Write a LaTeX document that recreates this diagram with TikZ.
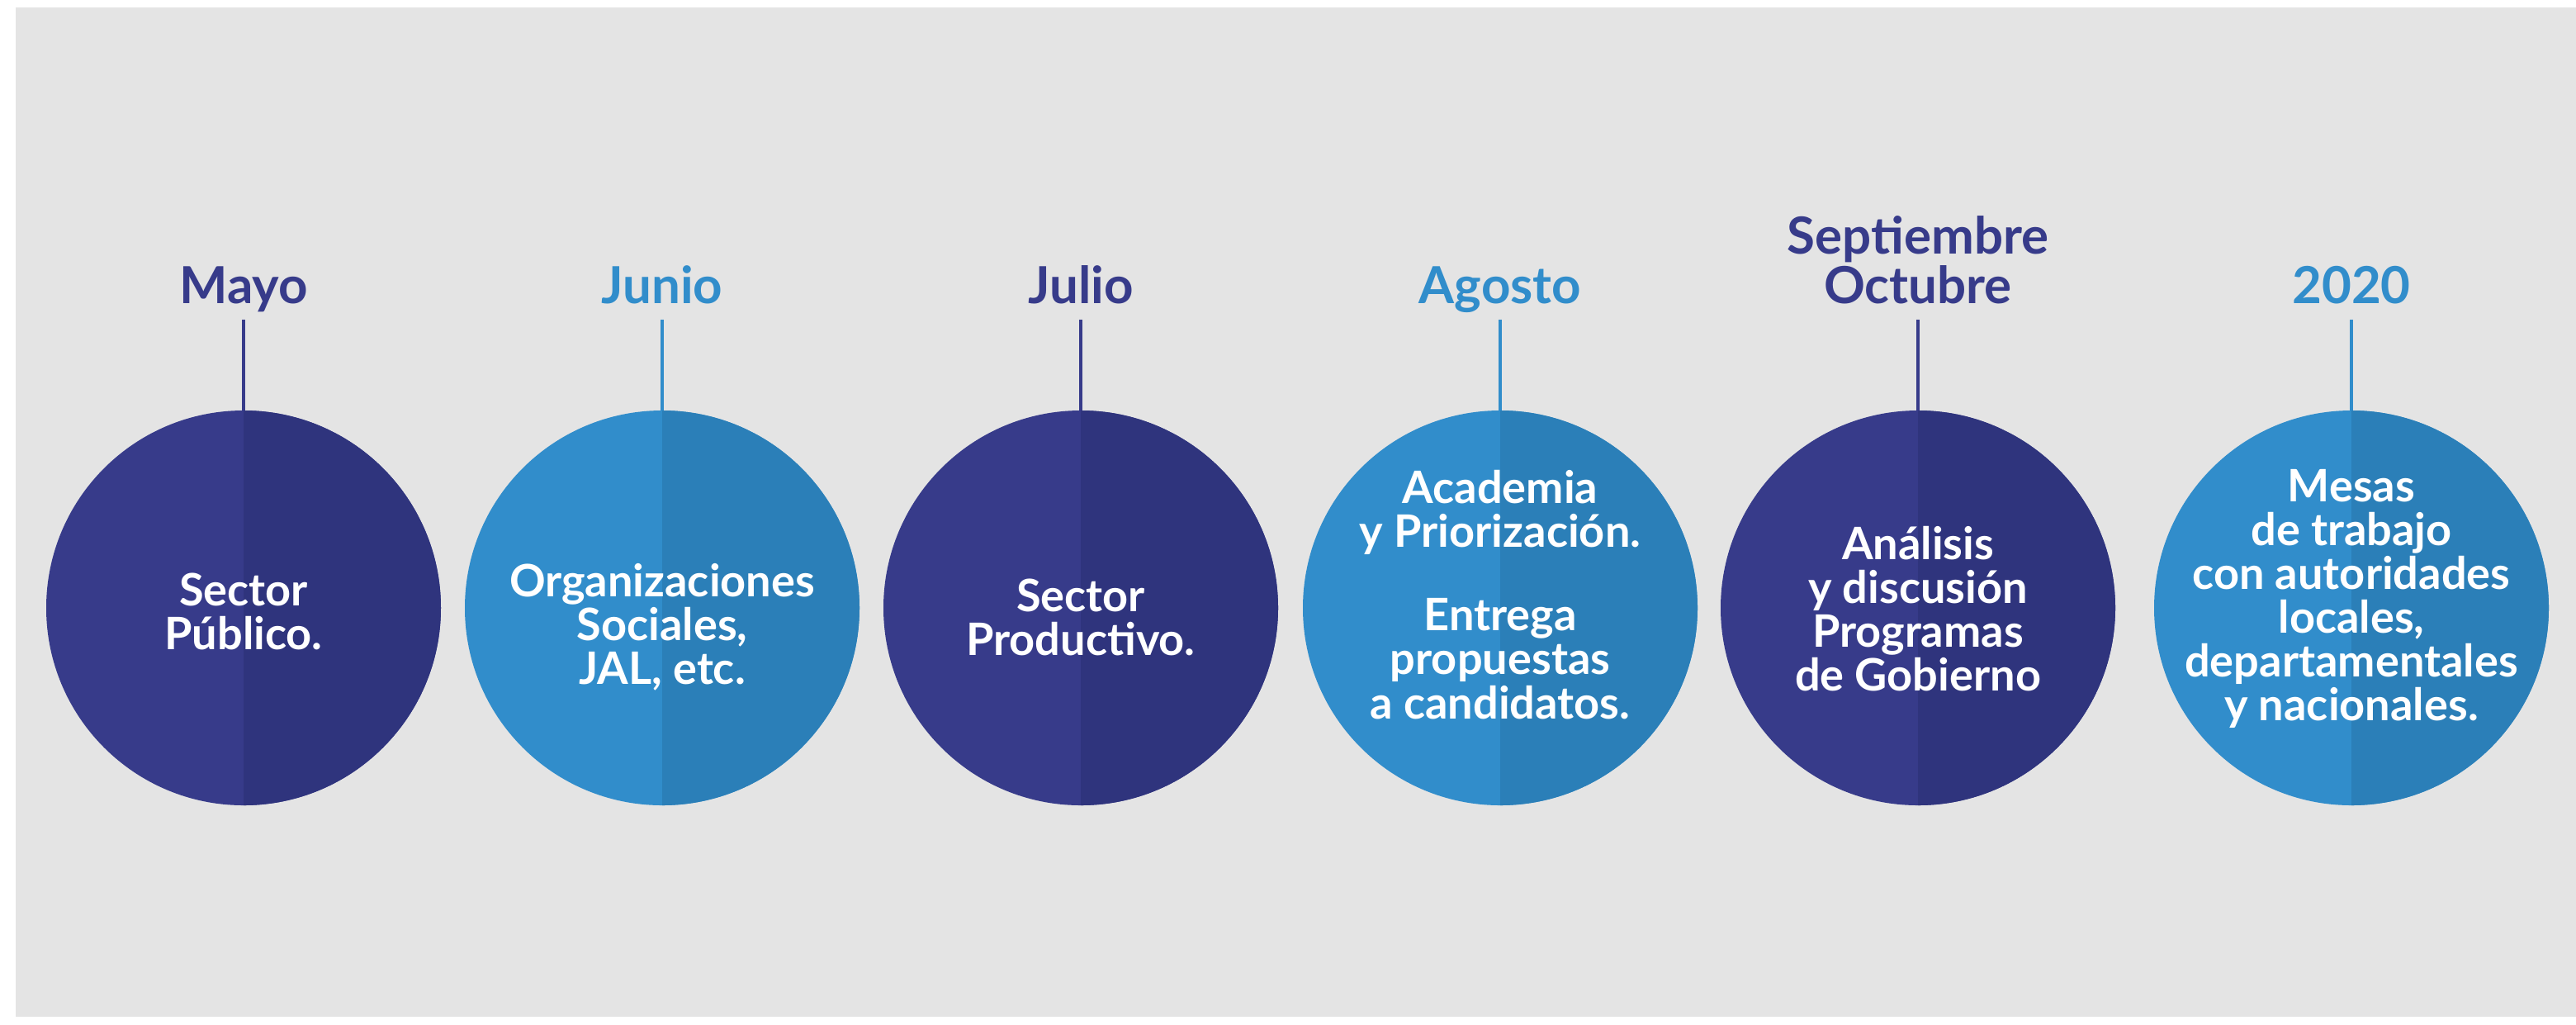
\documentclass[tikz,border=0pt]{standalone}
\usepackage{fontspec}
\setmainfont{Lato}
\usepackage{xcolor}
\usetikzlibrary{positioning}

\definecolor{fondo}{HTML}{E4E4E4}
\definecolor{oscL}{HTML}{373B8A}
\definecolor{oscR}{HTML}{2F347D}
\definecolor{claL}{HTML}{318DCB}
\definecolor{claR}{HTML}{2B7FB8}

\begin{document}
\begin{tikzpicture}[
    hito/.style={circle,minimum size=4.78cm,inner sep=0pt,outer sep=0pt},
    mes/.style={font=\fontsize{17.6}{14.8}\selectfont\bfseries,align=center,anchor=base},
    leyenda/.style={font=\fontsize{15.4}{15.1}\selectfont\bfseries,align=center,text=white}]
    \useasboundingbox (0,0) rectangle (31.2,-12.4);
    \fill[fondo] (0.19,-0.09) rectangle (31.2,-12.31);
    \foreach \i/\x/\tono/\mes/\ty/\texto in {
        1/2.95/osc/Mayo/7.40/{Sector\\Público.},
        2/8.02/cla/Junio/7.59/{Organizaciones\\Sociales,\\JAL, etc.},
        3/13.09/osc/Julio/7.47/{Sector\\Productivo.},
        4/18.17/cla/Agosto/7.20/{Academia\\y Priorización.\\[0.48cm]Entrega\\propuestas\\a candidatos.},
        5/23.23/osc/{Septiembre\\Octubre}/7.37/{Análisis\\y discusión\\Programas\\de Gobierno},
        6/28.48/cla/2020/7.25/{Mesas\\de trabajo\\con autoridades\\locales,\\departamentales\\y nacionales.}} {
      \node[hito,fill=\tono L] (c\i) at (\x,-7.36) {};
      \fill[\tono R] (c\i.north) arc[start angle=90,end angle=-90,radius=2.39] -- cycle;
      \node[leyenda] (t\i) at (\x,-\ty) {\texto};
      \node[mes,text=\tono L] (m\i) at (\x,-3.67) {\mes};
      \coordinate (p\i) at (\x,-3.87);
      \draw[\tono L,line width=0.04cm] (p\i) -- (c\i.north);
    }
  \end{tikzpicture}
\end{document}
